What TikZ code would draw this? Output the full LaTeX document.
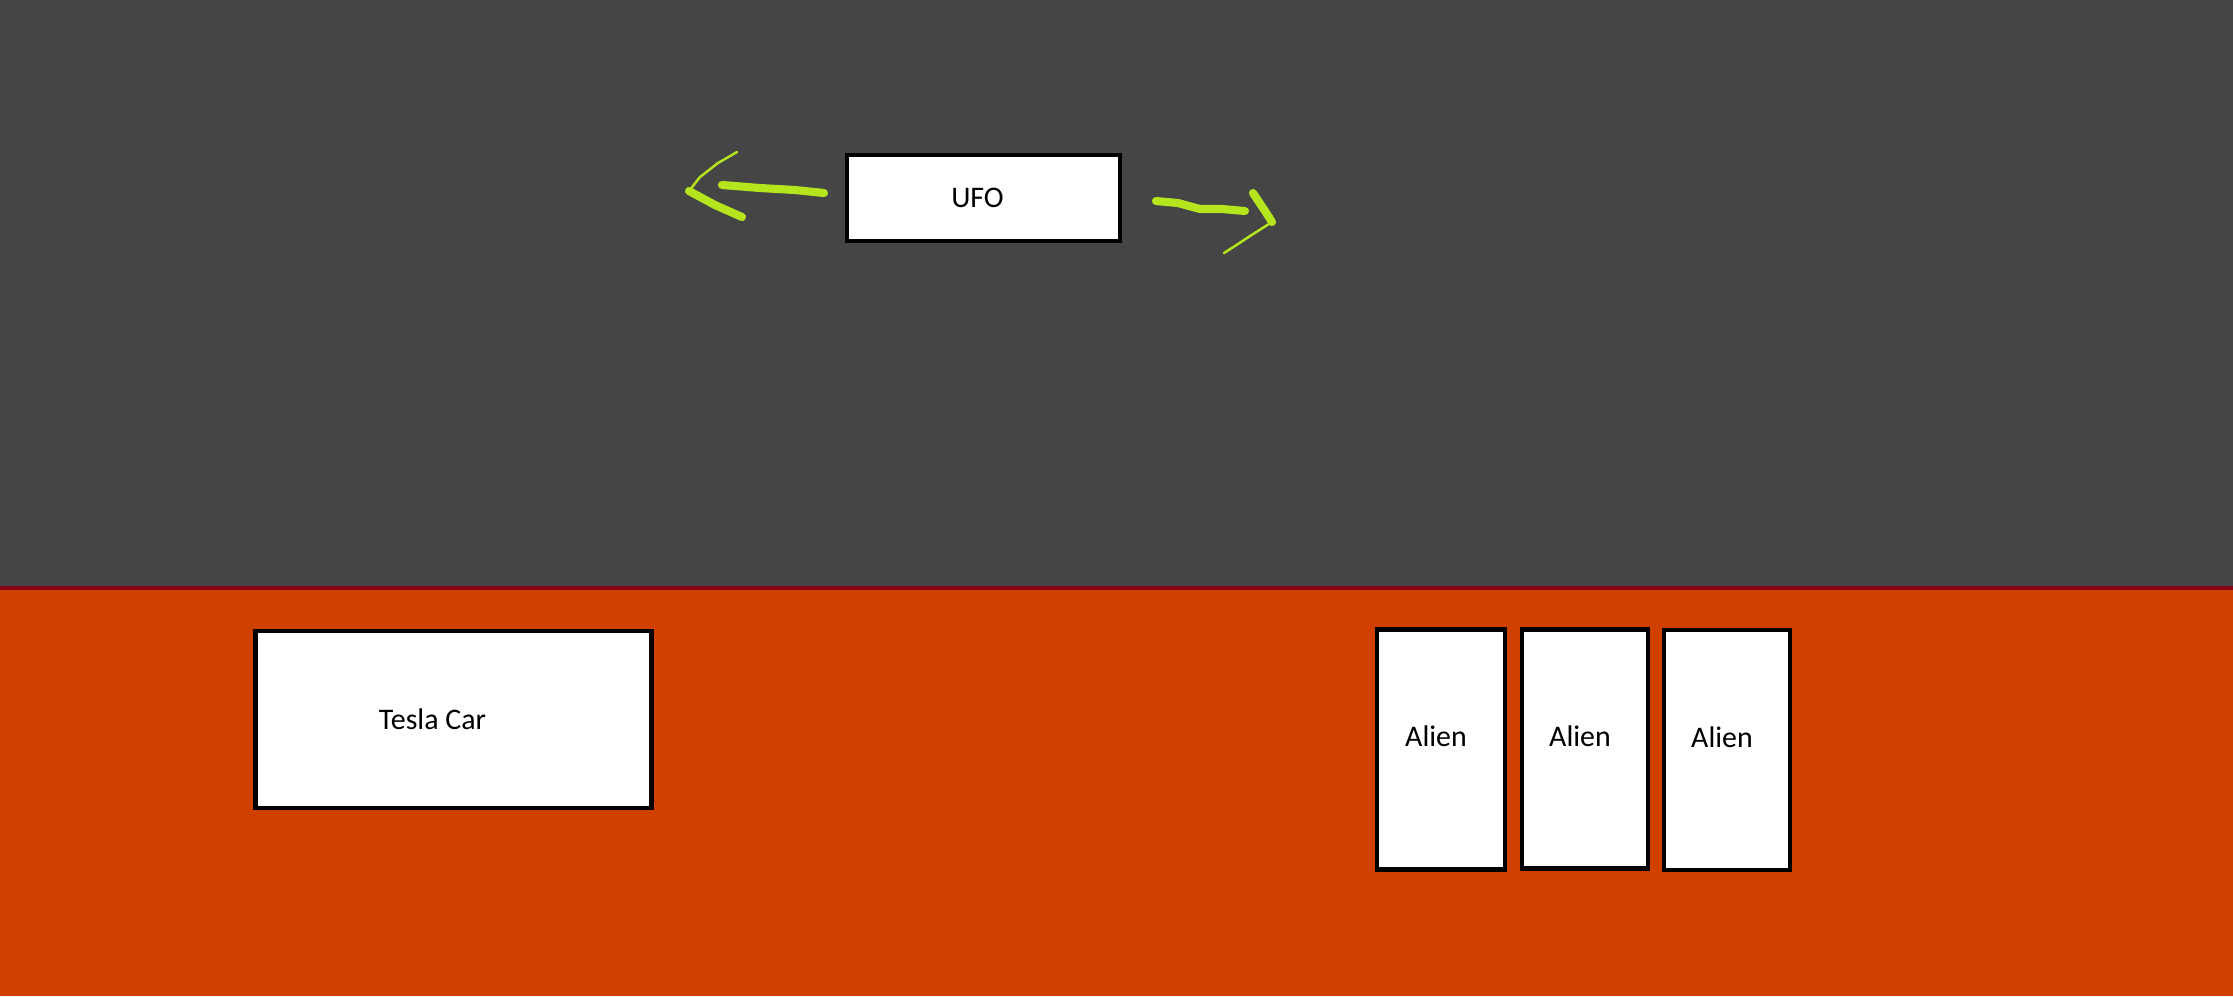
\documentclass[tikz,border=0pt]{standalone}
\usepackage{fontspec}
\setmainfont{Carlito}
\definecolor{sky}{RGB}{69,69,69}
\definecolor{ground}{RGB}{208,65,0}
\definecolor{rim}{RGB}{136,0,21}
\definecolor{scribble}{RGB}{181,230,29}
\newcommand{\alientext}{\raisebox{0.26cm}{Alien}\hspace{0.1cm}\mbox{}}
\begin{document}
\begin{tikzpicture}[
      x=0.01cm, y=-0.01cm,
      every node/.style={inner sep=0pt,font=\fontsize{8.5}{10}\selectfont},
      box/.style={draw=black,fill=white,line width=1.28pt},
      thick stroke/.style={draw=scribble,line width=2.3pt,line cap=round,line join=round},
      thin stroke/.style={draw=scribble,line width=0.7pt,line cap=round,line join=round}
    ]
  \useasboundingbox (0,0) rectangle (2233,996);
  \fill[sky] (0,0) rectangle (2233,588);
  \fill[ground] (0,588) rectangle (2233,996);
  \draw[rim,line width=1.4pt] (0,588) -- (2233,588);

  \node[box,minimum width=2.725cm,minimum height=0.855cm] (ufo) at (983.5,198) {UFO\hspace{0.12cm}\mbox{}};
  \node[box,minimum width=3.96cm,minimum height=1.77cm] (tesla) at (453.5,719.5) {Tesla Car\hspace{0.42cm}\mbox{}};
  \node[box,minimum width=1.28cm,minimum height=2.40cm] (alien1) at (1441,749.5) {\alientext};
  \node[box,minimum width=1.26cm,minimum height=2.39cm] (alien2) at (1585,749) {\alientext};
  \node[box,minimum width=1.26cm,minimum height=2.40cm] (alien3) at (1727,750) {\alientext};

  % scribbled arrows either side of the ufo
  \coordinate (lstart) at (824,193);
  \coordinate (ltip) at (689,191);
  \coordinate (rstart) at (1156,201);
  \coordinate (rtip) at (1272,222);
  \draw[thick stroke] (lstart) -- (795,190) -- (760,188) -- (722,185);
  \draw[thin stroke] (ltip) -- (700,177) -- (718,163) -- (737,152);
  \draw[thick stroke] (ltip) -- (715,205) -- (742,217);
  \draw[thick stroke] (rstart) -- (1178,203) -- (1200,209) -- (1222,209) -- (1245,211);
  \draw[thick stroke] (1253,193) -- (1265,211) -- (rtip);
  \draw[thin stroke] (rtip) -- (1250,236) -- (1238,244) -- (1224,253);
\end{tikzpicture}
\end{document}
